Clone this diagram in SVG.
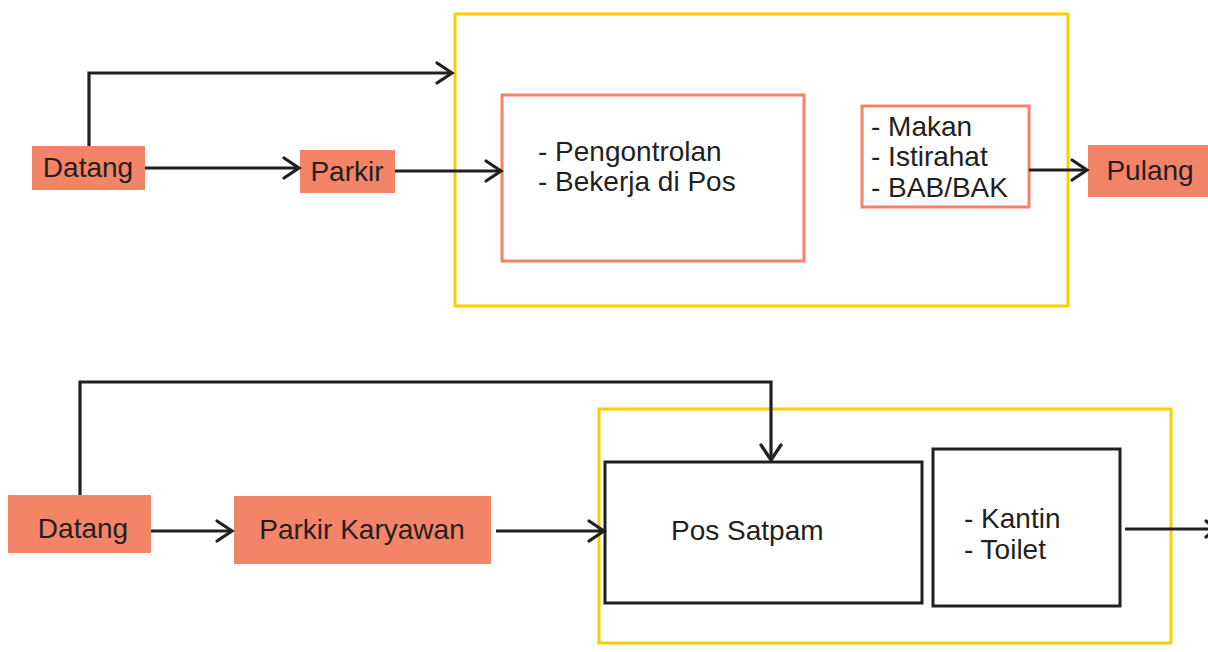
<svg xmlns="http://www.w3.org/2000/svg" width="1208" height="652" viewBox="0 0 1208 652">
<defs>
<style>
.fill{fill:#f48467;stroke:none}
.yel{fill:none;stroke:#ffcc00;stroke-width:3}
.sal{fill:#fff;stroke:#f48467;stroke-width:3}
.blk{fill:#fff;stroke:#231f20;stroke-width:3}
.ln{fill:none;stroke:#231f20;stroke-width:3.2}
.hd{fill:none;stroke:#231f20;stroke-width:3.2;stroke-linecap:round;stroke-linejoin:miter}
text{font-family:"Liberation Sans",Arial,sans-serif;font-size:28px;fill:#231f20}
</style>
</defs>
<rect width="1208" height="652" fill="#fff"/>
<g id="frame-top"><rect class="yel" x="455" y="14" width="613" height="292"/></g>
<g id="frame-bottom"><rect class="yel" x="599" y="409" width="572" height="234"/></g>
<g id="datang1"><rect class="fill" x="32" y="146" width="113" height="44"/><text x="88" y="177" text-anchor="middle">Datang</text></g>
<g id="parkir1"><rect class="fill" x="300" y="150" width="95" height="43"/><text x="347" y="181" text-anchor="middle">Parkir</text></g>
<g id="kerja"><rect class="sal" x="502" y="95" width="302" height="166"/><text x="538" y="161">- Pengontrolan</text><text x="538" y="191">- Bekerja di Pos</text></g>
<g id="makan"><rect class="sal" x="862" y="106" width="167" height="101"/><text x="871" y="136">- Makan</text><text x="871" y="166">- Istirahat</text><text x="871" y="197">- BAB/BAK</text></g>
<g id="pulang"><rect class="fill" x="1088" y="145" width="125" height="52"/><text x="1150" y="180" text-anchor="middle">Pulang</text></g>
<g id="datang2"><rect class="fill" x="8" y="495" width="143" height="58"/><text x="83" y="538" text-anchor="middle">Datang</text></g>
<g id="parkirk"><rect class="fill" x="234" y="496" width="257" height="68"/><text x="362" y="539" text-anchor="middle">Parkir Karyawan</text></g>
<g id="pos"><rect class="blk" x="605" y="462" width="317" height="141"/><text x="671" y="540">Pos Satpam</text></g>
<g id="kantin"><rect class="blk" x="933" y="449" width="187" height="157"/><text x="964" y="528">- Kantin</text><text x="964" y="559">- Toilet</text></g>
<g id="connectors">
<path class="ln" d="M89 146 V73 H452"/><path class="hd" d="M437 63 L452 73 L437 83"/>
<path class="ln" d="M145 168 H299"/><path class="hd" d="M284 158 L299 168 L284 178"/>
<path class="ln" d="M395 171 H501"/><path class="hd" d="M486 161 L501 171 L486 181"/>
<path class="ln" d="M1029 170 H1087"/><path class="hd" d="M1072 160 L1087 170 L1072 180"/>
<path class="ln" d="M80 495 V382 H771 V460"/><path class="hd" d="M761 445 L771 460 L781 445"/>
<path class="ln" d="M151 531 H232"/><path class="hd" d="M217 521 L232 531 L217 541"/>
<path class="ln" d="M496 531 H604"/><path class="hd" d="M589 521 L604 531 L589 541"/>
<path class="ln" d="M1125 529 H1210"/><path class="hd" d="M1206 521 L1216 529 L1206 537"/>
</g>
</svg>
